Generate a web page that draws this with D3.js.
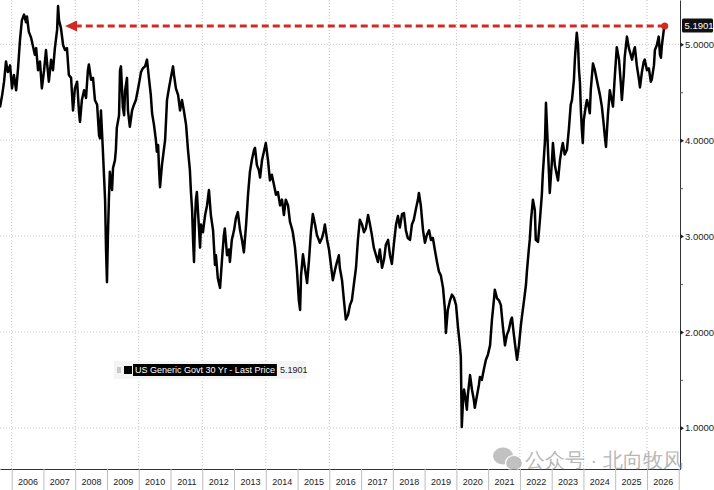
<!DOCTYPE html>
<html>
<head>
<meta charset="utf-8">
<title>US Generic Govt 30 Yr</title>
<script src="https://d3js.org/d3.v7.min.js"></script>
<style>
  body { margin: 0; background: #fff; }
  svg text { font-family: "Liberation Sans", Arial, sans-serif; }
</style>
</head>
<body>
<svg width="714" height="490"></svg>
<script>
// weekly-ish readings of the 30Y yield, decimal years
const dates = [
  2005.63,2005.70,2005.76,2005.82,2005.88,2005.95,2006.01,2006.07,2006.14,2006.20,
  2006.26,2006.32,2006.39,2006.45,2006.48,2006.54,2006.61,2006.67,2006.73,2006.77,
  2006.83,2006.89,2006.95,2007.02,2007.08,2007.11,2007.17,2007.24,2007.30,2007.36,
  2007.43,2007.46,2007.49,2007.55,2007.62,2007.68,2007.74,2007.80,2007.87,2007.93,
  2007.99,2008.06,2008.12,2008.15,2008.21,2008.28,2008.34,2008.40,2008.43,2008.50,
  2008.56,2008.62,2008.69,2008.75,2008.78,2008.81,2008.87,2008.94,2008.97,2009.00,
  2009.03,2009.06,2009.09,2009.16,2009.19,2009.25,2009.28,2009.31,2009.38,2009.41,
  2009.44,2009.50,2009.54,2009.57,2009.63,2009.66,2009.72,2009.79,2009.85,2009.91,
  2009.98,2010.04,2010.07,2010.13,2010.20,2010.26,2010.32,2010.38,2010.42,2010.48,
  2010.54,2010.57,2010.61,2010.64,2010.67,2010.73,2010.79,2010.83,2010.89,2010.95,
  2011.01,2011.08,2011.11,2011.17,2011.24,2011.30,2011.36,2011.42,2011.49,2011.55,
  2011.61,2011.64,2011.68,2011.71,2011.74,2011.77,2011.80,2011.83,2011.90,2011.93,
  2011.96,2012.02,2012.09,2012.15,2012.21,2012.27,2012.34,2012.40,2012.43,2012.49,
  2012.56,2012.62,2012.68,2012.71,2012.78,2012.84,2012.87,2012.93,2013.00,2013.06,
  2013.12,2013.19,2013.25,2013.31,2013.38,2013.44,2013.50,2013.56,2013.63,2013.66,
  2013.72,2013.78,2013.82,2013.88,2013.94,2014.00,2014.07,2014.13,2014.19,2014.26,
  2014.32,2014.38,2014.45,2014.51,2014.57,2014.63,2014.70,2014.76,2014.82,2014.85,
  2014.92,2014.98,2015.04,2015.08,2015.11,2015.17,2015.23,2015.30,2015.36,2015.42,
  2015.48,2015.55,2015.61,2015.67,2015.70,2015.77,2015.83,2015.86,2015.93,2015.99,
  2016.05,2016.11,2016.18,2016.24,2016.30,2016.33,2016.40,2016.46,2016.52,2016.59,
  2016.65,2016.71,2016.77,2016.84,2016.90,2016.96,2017.03,2017.09,2017.15,2017.22,
  2017.28,2017.34,2017.40,2017.47,2017.53,2017.59,2017.66,2017.72,2017.78,2017.85,
  2017.91,2017.97,2018.03,2018.10,2018.16,2018.22,2018.29,2018.35,2018.41,2018.47,
  2018.54,2018.60,2018.66,2018.73,2018.79,2018.82,2018.88,2018.95,2019.01,2019.07,
  2019.14,2019.20,2019.26,2019.32,2019.39,2019.45,2019.51,2019.58,2019.64,2019.67,
  2019.73,2019.80,2019.86,2019.92,2019.99,2020.05,2020.11,2020.14,2020.17,2020.21,
  2020.24,2020.27,2020.33,2020.36,2020.43,2020.49,2020.55,2020.58,2020.65,2020.71,
  2020.74,2020.80,2020.87,2020.93,2020.99,2021.06,2021.12,2021.18,2021.21,2021.28,
  2021.34,2021.40,2021.46,2021.53,2021.59,2021.65,2021.72,2021.75,2021.81,2021.87,
  2021.91,2021.97,2022.03,2022.06,2022.13,2022.19,2022.22,2022.28,2022.31,2022.35,
  2022.41,2022.47,2022.50,2022.57,2022.63,2022.69,2022.72,2022.79,2022.82,2022.85,
  2022.91,2022.94,2023.01,2023.04,2023.10,2023.16,2023.20,2023.26,2023.32,2023.35,
  2023.41,2023.48,2023.54,2023.60,2023.64,2023.70,2023.73,2023.76,2023.79,2023.83,
  2023.86,2023.89,2023.92,2023.95,2023.98,2024.01,2024.08,2024.11,2024.17,2024.20,
  2024.23,2024.30,2024.36,2024.42,2024.45,2024.52,2024.58,2024.64,2024.67,2024.71,
  2024.77,2024.83,2024.86,2024.93,2024.99,2025.05,2025.12,2025.18,2025.21,2025.27,
  2025.30,2025.37,2025.43,2025.49,2025.53,2025.59,2025.62,2025.68,2025.75,2025.78,
  2025.84,2025.90,2025.93,2026.00,2026.06,2026.12,2026.15,2026.22,2026.25,2026.31,
  2026.37,2026.41,2026.44,2026.47,2026.53,2026.56
];
const yields = [
  4.34,4.47,4.61,4.82,4.71,4.78,4.54,4.68,4.52,4.75,
  5.04,5.25,5.31,5.23,5.29,5.13,5.07,4.98,4.89,4.96,
  4.73,4.82,4.54,4.73,4.94,4.82,4.61,4.84,4.73,4.96,
  5.15,5.40,5.25,5.17,4.99,4.94,4.96,4.68,4.65,4.31,
  4.54,4.61,4.29,4.19,4.42,4.52,4.44,4.73,4.79,4.63,
  4.65,4.42,4.37,4.05,4.02,4.31,3.90,3.38,2.86,2.52,
  3.01,3.38,3.67,3.48,3.71,3.79,3.90,4.13,4.26,4.73,
  4.77,4.34,4.26,4.52,4.65,4.31,4.14,4.31,4.37,4.42,
  4.54,4.65,4.71,4.75,4.77,4.84,4.65,4.47,4.28,4.16,
  4.00,3.88,3.95,3.69,3.51,3.74,3.90,4.00,4.42,4.54,
  4.65,4.77,4.68,4.54,4.47,4.31,4.42,4.31,4.16,3.90,
  3.69,3.48,3.27,2.96,2.73,3.17,3.38,3.46,3.06,2.88,
  3.12,3.04,3.22,3.32,3.48,3.22,3.06,2.70,2.80,2.56,
  2.46,2.75,3.01,3.08,2.80,2.86,2.73,2.96,3.06,3.19,
  3.25,3.06,2.96,2.83,3.12,3.43,3.67,3.79,3.90,3.92,
  3.74,3.69,3.61,3.79,3.88,3.97,3.79,3.58,3.64,3.53,
  3.43,3.46,3.32,3.38,3.22,3.38,3.32,3.15,3.08,3.04,
  2.88,2.65,2.33,2.23,2.59,2.81,2.67,2.51,2.75,3.04,
  3.23,3.12,3.01,2.96,2.93,2.98,3.06,3.12,2.96,2.86,
  2.70,2.54,2.65,2.73,2.80,2.67,2.54,2.33,2.13,2.18,
  2.28,2.33,2.49,2.67,2.96,3.17,3.12,3.04,3.08,3.22,
  3.12,3.01,2.88,2.80,2.73,2.86,2.67,2.75,2.91,2.96,
  2.80,2.71,2.91,3.12,3.21,3.09,3.23,3.24,3.06,2.98,
  2.96,3.12,3.17,3.29,3.38,3.45,3.32,3.06,2.93,3.01,
  3.06,2.96,2.98,2.86,2.73,2.63,2.59,2.46,2.23,1.99,
  2.23,2.33,2.39,2.36,2.28,2.05,1.86,1.74,1.01,1.29,
  1.40,1.34,1.19,1.34,1.55,1.40,1.29,1.21,1.34,1.45,
  1.53,1.50,1.62,1.71,1.76,1.86,2.13,2.33,2.44,2.35,
  2.33,2.28,2.07,1.86,1.97,2.02,2.13,2.15,1.97,1.81,
  1.71,1.86,2.07,2.15,2.33,2.49,2.63,2.86,2.96,3.17,
  3.38,3.27,2.96,2.94,3.17,3.43,3.64,4.00,4.39,4.16,
  3.69,3.45,3.79,3.97,3.74,3.64,3.58,3.79,3.92,3.97,
  3.85,3.90,4.11,4.37,4.42,4.63,4.84,4.99,5.12,4.99,
  4.73,4.60,4.31,4.11,3.97,4.21,4.37,4.42,4.34,4.28,
  4.52,4.80,4.73,4.63,4.58,4.47,4.35,4.16,4.05,3.93,
  4.26,4.52,4.47,4.35,4.68,4.97,4.84,4.58,4.42,4.68,
  4.87,5.08,4.96,4.89,4.84,4.94,4.97,4.78,4.63,4.55,
  4.71,4.82,4.84,4.73,4.75,4.61,4.63,4.78,4.94,4.99,
  5.08,4.89,4.86,4.99,5.15,5.19
];
const yearLabels = d3.range(2006, 2027);
const gridYears = d3.range(2006, 2027, 2);
const yTicks = [1, 2, 3, 4, 5];
const yMinorTicks = [1.5, 2.5, 3.5, 4.5];
const seriesName = "US Generic Govt 30 Yr - Last Price";
const lastValue = 5.1901;
const arrowTo = 2007.68;   // red arrow points back to the 2007 high
const watermark = "公众号 · 北向牧风";

const plotRight = 680, plotBottom = 469;
const svg = d3.select("svg");
const fmt = d3.format(".4f");

const x = d3.scaleLinear().domain([2005.632, 2027.04]).range([0, plotRight]);
const y = d3.scaleLinear().domain([0.571, 5.462]).range([plotBottom, 0]);

// dotted grid
svg.append("g").selectAll("line").data(yTicks).join("line")
    .attr("x1", 0).attr("x2", plotRight)
    .attr("y1", d => y(d)).attr("y2", d => y(d))
    .attr("stroke", "#c4c4c4").attr("stroke-width", 1).attr("stroke-dasharray", "1,2");
svg.append("g").selectAll("line").data(gridYears).join("line")
    .attr("x1", d => x(d)).attr("x2", d => x(d))
    .attr("y1", 0).attr("y2", plotBottom)
    .attr("stroke", "#c4c4c4").attr("stroke-width", 1).attr("stroke-dasharray", "1,2");

// bottom axis: year separators + labels
const xSep = svg.append("g").attr("transform", `translate(0,${plotBottom})`)
    .call(d3.axisBottom(x).tickValues(d3.range(2006, 2028)).tickSize(21).tickSizeOuter(0).tickFormat(""));
xSep.select(".domain").attr("stroke", "#333");
xSep.selectAll(".tick line").attr("stroke", "#bdbdbd");

const xLab = svg.append("g").attr("transform", `translate(0,${plotBottom})`)
    .call(d3.axisBottom(x).tickValues(yearLabels.map(d => d + 0.5)).tickSize(0).tickPadding(10)
        .tickFormat(d => Math.floor(d)));
xLab.select(".domain").remove();
xLab.selectAll("text").attr("font-size", 9).attr("fill", "#222")
    .attr("font-family", "'Liberation Sans', Arial, sans-serif");

// right axis
const yAx = svg.append("g").attr("transform", `translate(${plotRight},0)`)
    .call(d3.axisRight(y).tickValues(yTicks).tickSize(0).tickSizeOuter(0).tickPadding(5).tickFormat(fmt));
yAx.select(".domain").attr("stroke", "#333");
yAx.selectAll("text").attr("font-size", 9.5).attr("fill", "#222")
    .attr("font-family", "'Liberation Sans', Arial, sans-serif");
yAx.selectAll(".tick").append("path").attr("d", "M0,-2.5L4,0L0,2.5Z").attr("fill", "#222");

const yMinor = svg.append("g").attr("transform", `translate(${plotRight},0)`)
    .call(d3.axisRight(y).tickValues(yMinorTicks).tickSize(3).tickFormat(""));
yMinor.select(".domain").remove();
yMinor.selectAll(".tick line").attr("stroke", "#555");

// series
const pts = dates.map((d, i) => [d, yields[i]]);
svg.append("path").datum(pts)
    .attr("d", d3.line().x(d => x(d[0])).y(d => y(d[1])))
    .attr("fill", "none").attr("stroke", "#000").attr("stroke-width", 2.5)
    .attr("stroke-linejoin", "round");

// red dashed arrow at the last value
const lastDate = dates[dates.length - 1];
const red = "#d12a22";
const ly = y(lastValue);
svg.append("line")
    .attr("x1", x(lastDate)).attr("x2", x(arrowTo) + 10)
    .attr("y1", ly).attr("y2", ly)
    .attr("stroke", red).attr("stroke-width", 3).attr("stroke-dasharray", "7,4");
svg.append("path")
    .attr("d", `M${x(arrowTo)},${ly}L${x(arrowTo) + 12},${ly - 5.5}L${x(arrowTo) + 12},${ly + 5.5}Z`)
    .attr("fill", red);
svg.append("circle").attr("cx", x(lastDate)).attr("cy", ly).attr("r", 3.5).attr("fill", red);

// last price tag
svg.append("rect").attr("x", plotRight + 2).attr("y", ly - 7.5)
    .attr("width", 31).attr("height", 14).attr("rx", 1.5).attr("fill", "#111");
svg.append("text").attr("x", plotRight + 4.5).attr("y", ly + 3.3)
    .attr("font-size", 9.5).attr("fill", "#fff").text(fmt(lastValue));

// legend
const lg = svg.append("g").attr("transform", "translate(117,370)");
lg.append("rect").attr("x", -3).attr("y", -9).attr("width", 192).attr("height", 18).attr("fill", "#f4f4f4");
[-2, 0, 2].forEach(dy => lg.append("line").attr("x1", 0).attr("x2", 4)
    .attr("y1", dy).attr("y2", dy).attr("stroke", "#888").attr("stroke-width", 0.8));
lg.append("rect").attr("x", 7).attr("y", -4).attr("width", 8).attr("height", 8).attr("fill", "#000");
const lgText = lg.append("text").attr("x", 18).attr("y", 3.3).attr("font-size", 9)
    .attr("fill", "#fff").text(seriesName);
const tw = lgText.node().getComputedTextLength();
lg.insert("rect", "text").attr("x", 16).attr("y", -6).attr("width", tw + 4).attr("height", 12).attr("fill", "#000");
lg.append("text").attr("x", 18 + tw + 5).attr("y", 3.3).attr("font-size", 9)
    .attr("fill", "#222").text(fmt(lastValue));

// watermark
const wm = svg.append("g").attr("opacity", 0.6);
wm.append("ellipse").attr("cx", 503).attr("cy", 456).attr("rx", 10).attr("ry", 8.5).attr("fill", "#999");
wm.append("ellipse").attr("cx", 514).attr("cy", 463).attr("rx", 8.5).attr("ry", 7.5).attr("fill", "#999")
    .attr("stroke", "#fff").attr("stroke-width", 1.2);
wm.append("text").attr("x", 525).attr("y", 467).attr("font-size", 20)
    .attr("font-family", "'Noto Sans CJK SC', sans-serif").attr("fill", "#888").text(watermark);
</script>
</body>
</html>
